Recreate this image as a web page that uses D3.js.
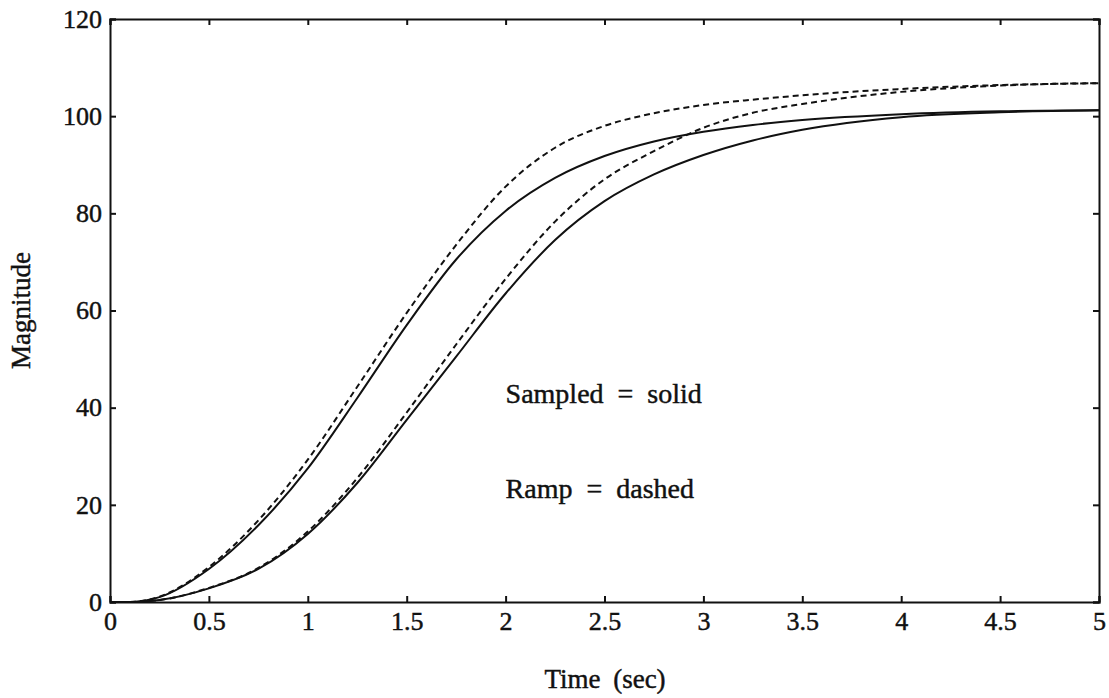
<!DOCTYPE html>
<html>
<head>
<meta charset="utf-8">
<script src="https://cdn.jsdelivr.net/npm/d3@7"></script>
<style>
  body { margin: 0; background: #fff; }
  text { font-family: "Liberation Serif", "Times New Roman", serif; fill: #111; stroke: #111; stroke-width: 0.45px; }
</style>
</head>
<body>
<div id="chart"></div>
<script>
// time samples (sec) shared by all four responses
const time = [0, 0.1, 0.25, 0.5, 0.75, 1.0, 1.25, 1.5, 1.75, 2.0, 2.25, 2.5, 2.75, 3.0, 3.25, 3.5, 4.0, 4.5, 5.0]

// faster pair
const sampledFast = [0, 0, 1.0, 6.8, 15.8, 27.5, 42, 57, 70.5, 80.5, 87.3, 91.8, 94.8, 96.8, 98.2, 99.2, 100.4, 101, 101.2]
const rampFast = [0, 0, 1.1, 7.2, 16.8, 29.3, 44.3, 59.5, 73.5, 85.5, 93.5, 98, 100.6, 102.3, 103.4, 104.3, 105.6, 106.4, 106.8]
// slower pair
const sampledSlow = [0, 0, 0.4, 2.8, 6.8, 14, 24.5, 37.5, 50.5, 63.5, 74.5, 82.5, 88, 92, 95, 97.2, 99.8, 100.8, 101.2]
const rampSlow = [0, 0, 0.4, 2.9, 7, 14.5, 25.5, 39, 53, 66.5, 78.3, 87, 92.8, 97.6, 100.7, 102.5, 105, 106.3, 106.8]

const xTicks = [0, 0.5, 1, 1.5, 2, 2.5, 3, 3.5, 4, 4.5, 5]
const yTicks = [0, 20, 40, 60, 80, 100, 120]

const series = [
  { values: sampledFast, dashed: false },
  { values: sampledSlow, dashed: false },
  { values: rampFast, dashed: true },
  { values: rampSlow, dashed: true }
]

const width = 1109, height = 698
const margin = { top: 19, right: 10, bottom: 96, left: 110 }
const plotW = width - margin.left - margin.right
const plotH = height - margin.top - margin.bottom

const svg = d3.select('#chart')
  .append('svg')
  .attr('width', width)
  .attr('height', height)

const g = svg.append('g')
  .attr('transform', `translate(${margin.left},${margin.top})`)

const x = d3.scaleLinear().domain([0, 5]).range([0, plotW])
const y = d3.scaleLinear().domain([0, 120]).range([plotH, 0])

// curves
const line = d3.line()
  .x((d, i) => x(time[i]))
  .y(d => y(d))
  .curve(d3.curveMonotoneX)

g.selectAll('path.resp')
  .data(series)
  .enter()
  .append('path')
  .attr('class', 'resp')
  .attr('d', d => line(d.values))
  .attr('fill', 'none')
  .attr('stroke', '#111')
  .attr('stroke-width', 2)
  .attr('stroke-dasharray', d => d.dashed ? '6,4' : null)

// axes with inward ticks on all four sides
const tickLen = 6
g.append('g')
  .attr('transform', `translate(0,${plotH})`)
  .call(d3.axisBottom(x).tickValues(xTicks).tickSize(-tickLen).tickPadding(10).tickFormat(d3.format('')))
g.append('g')
  .call(d3.axisTop(x).tickValues(xTicks).tickSize(-tickLen).tickFormat(''))
g.append('g')
  .call(d3.axisLeft(y).tickValues(yTicks).tickSize(-tickLen).tickPadding(8))
g.append('g')
  .attr('transform', `translate(${plotW},0)`)
  .call(d3.axisRight(y).tickValues(yTicks).tickSize(-tickLen).tickFormat(''))

g.selectAll('.domain, .tick line')
  .attr('stroke', '#111')
  .attr('stroke-width', 2)

g.selectAll('.tick text')
  .style('font-family', '"Liberation Serif", serif')
  .style('font-size', '26px')
  .attr('fill', '#111')

// annotations
g.append('text')
  .attr('x', x(2.0))
  .attr('y', y(41))
  .style('font-size', '28px')
  .style('word-spacing', '7px')
  .text('Sampled = solid')

g.append('text')
  .attr('x', x(2.0))
  .attr('y', y(21.4))
  .style('font-size', '28px')
  .style('word-spacing', '7px')
  .text('Ramp = dashed')

// axis titles
svg.append('text')
  .attr('x', 605)
  .attr('y', 688)
  .attr('text-anchor', 'middle')
  .style('font-size', '27px')
  .style('word-spacing', '6px')
  .text('Time (sec)')

svg.append('text')
  .attr('transform', `translate(30,${margin.top + plotH / 2}) rotate(-90)`)
  .attr('text-anchor', 'middle')
  .style('font-size', '27px')
  .text('Magnitude')
</script>
</body>
</html>
